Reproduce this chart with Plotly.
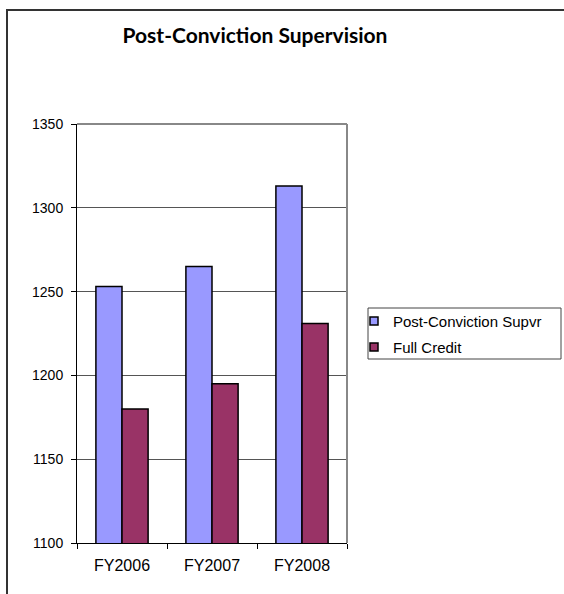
import plotly.graph_objects as go

categories = ["FY2006", "FY2007", "FY2008"]
supvr_values = [1253, 1265, 1313]
credit_values = [1180, 1195, 1231]
series_names = ["Post-Conviction Supvr", "Full Credit"]
series_colors = ["#9999FF", "#993366"]
y_ticks = [1100, 1150, 1200, 1250, 1300, 1350]

W, H = 564, 594
L, R, T, B = 77, 347, 124, 543
pw, ph = R - L, B - T

def px(x):
    return (x - L) / pw

def py(y):
    return (B - y) / ph

fig = go.Figure()
for vals, name, col in zip([supvr_values, credit_values], series_names, series_colors):
    fig.add_trace(go.Bar(x=categories, y=vals, name=name,
                         marker=dict(color=col, line=dict(color="black", width=1.5)),
                         showlegend=False))

fig.update_layout(
    width=W, height=H,
    margin=dict(l=L, r=W - R, t=T, b=H - B, pad=0),
    paper_bgcolor="white", plot_bgcolor="white",
    barmode="group", bargap=0.42, bargroupgap=0,
    title=dict(text="<b>Post-Conviction Supervision</b>", x=px(255), xref="paper",
               xanchor="center", y=1 - 36 / H, yref="container", yanchor="middle",
               font=dict(family="Lato", size=21, color="black")),
    font=dict(family="Liberation Sans", size=14, color="black"),
)
fig.update_xaxes(type="category", tickson="boundaries", ticks="outside", ticklen=5,
                 tickcolor="black", showline=True, linecolor="black", linewidth=1,
                 showgrid=False, ticklabelstandoff=8,
                 tickfont=dict(size=16, family="Liberation Sans"))
fig.update_yaxes(range=[1100, 1350], tickvals=y_ticks, ticks="outside", ticklen=5,
                 tickcolor="black", showline=True, linecolor="black", linewidth=1,
                 showgrid=True, gridcolor="#555555", gridwidth=1, zeroline=False,
                 ticklabelstandoff=5,
                 tickfont=dict(size=14, family="Liberation Sans"))

# plot area border (top/right gray)
fig.add_shape(type="line", xref="paper", yref="paper", x0=0, x1=1, y0=1, y1=1,
              line=dict(color="#888888", width=2))
fig.add_shape(type="line", xref="paper", yref="paper", x0=1, x1=1, y0=0, y1=1,
              line=dict(color="#888888", width=2))
# outer chart border
fig.add_shape(type="rect", xref="paper", yref="paper", x0=px(7), x1=px(600),
              y0=py(650), y1=py(10), line=dict(color="#333333", width=2), layer="below")

# custom legend
fig.add_shape(type="rect", xref="paper", yref="paper", x0=px(368), x1=px(561),
              y0=py(359), y1=py(308), line=dict(color="#444444", width=1),
              fillcolor="white")
for i, (name, col) in enumerate(zip(series_names, series_colors)):
    cy = 321 + 26 * i
    fig.add_shape(type="rect", xref="paper", yref="paper", x0=px(370), x1=px(378),
                  y0=py(cy + 4), y1=py(cy - 4), line=dict(color="black", width=1.5),
                  fillcolor=col)
    fig.add_annotation(text=name, xref="paper", yref="paper", x=px(391), y=py(cy),
                       xanchor="left", yanchor="middle", showarrow=False,
                       font=dict(family="Liberation Sans", size=15, color="black"))

fig.write_html("out.html", config={"displayModeBar": False},
               post_script="document.body.style.margin='0';")
